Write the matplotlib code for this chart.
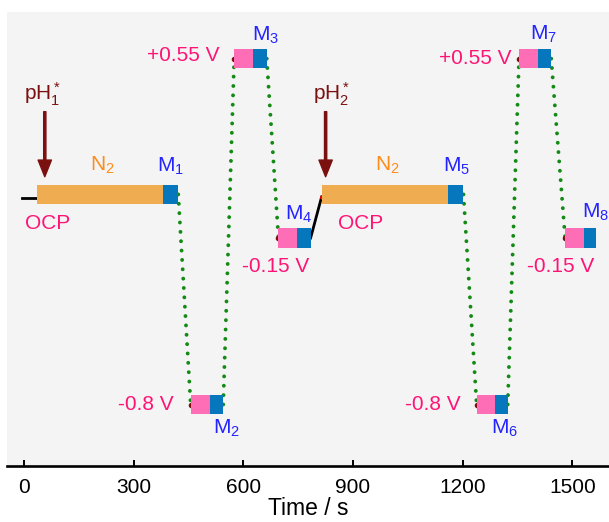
import matplotlib.pyplot as plt
import numpy as np

plt.rcParams['font.family'] = ['Liberation Sans', 'DejaVu Sans']
plt.rcParams['mathtext.fontset'] = 'custom'
plt.rcParams['mathtext.rm'] = 'Liberation Sans'
plt.rcParams['mathtext.it'] = 'Liberation Sans:italic'
plt.rcParams['font.size'] = 15

# potential steps (s, V)
ocp = 0.02
levels = [ocp, -0.8, 0.55, -0.15, ocp, -0.8, 0.55, -0.15]
t_start = [36, 456, 575, 696, 814, 1238, 1354, 1480]
t_split = [381, 510, 627, 748, 1161, 1287, 1406, 1532]
t_end = [422, 545, 664, 784, 1202, 1323, 1442, 1565]
m_names = ['M$_1$', 'M$_2$', 'M$_3$', 'M$_4$', 'M$_5$', 'M$_6$', 'M$_7$', 'M$_8$']

# OCP traces (black)
ocp1_t = [-4, 36]
ocp1_v = [0.007, 0.007]
ocp2_t = [784, 814]
ocp2_v = [-0.15, 0.01]

# pH change arrows
ph_t = [57, 825]
ph_labels = ['pH$_1^*$', 'pH$_2^*$']

xticks = [0, 300, 600, 900, 1200, 1500]

pink_txt = '#ff1476'
blue_txt = '#2424ff'
orange_txt = '#ff8c1a'
dark_red = '#7b1010'
green = '#138a13'

fig = plt.figure(figsize=(6.09, 5.22), dpi=100)
ax = fig.add_axes([0.0123, 0.1073, 0.9877, 0.8697])
ax.set_facecolor('#f4f4f4')

h = 0.0754
for i in range(len(levels)):
    first_col = '#f0ac50' if i in (0, 4) else '#fd6eb7'
    ax.barh(levels[i], t_split[i] - t_start[i], left=t_start[i], height=h,
            color=first_col, edgecolor='none', zorder=3)
    ax.barh(levels[i], t_end[i] - t_split[i], left=t_split[i], height=h,
            color='#0777bd', edgecolor='none', zorder=3)

# transitions
for i in range(len(levels) - 1):
    if i == 3:
        continue
    ax.plot([t_end[i], t_start[i + 1]], [levels[i], levels[i + 1]],
            color=green, lw=2.8, linestyle=(0, (0.01, 2.4)),
            dash_capstyle='round', zorder=2)
    ax.plot(t_start[i + 1], levels[i + 1], 'o', ms=3, color=dark_red, zorder=2.5)

ax.plot(ocp1_t, ocp1_v, color='black', lw=2, zorder=2)
ax.plot(ocp2_t, ocp2_v, color='black', lw=2, zorder=2)
ax.plot(ocp2_t[1], ocp2_v[1], 'o', ms=2.5, color='red', zorder=2.5)

for t, lab in zip(ph_t, ph_labels):
    ax.annotate('', xy=(t, 0.089), xytext=(t, 0.343),
                arrowprops=dict(facecolor=dark_red, edgecolor=dark_red,
                                width=1.6, headwidth=9.6, headlength=12, shrink=0))
    ax.text(t - 6 if t < 100 else t + 15, 0.389, lab, color=dark_red,
            ha='center', va='baseline')

# labels
ax.text(213, 0.111, 'N$_2$', color=orange_txt, ha='center', va='baseline')
ax.text(995, 0.111, 'N$_2$', color=orange_txt, ha='center', va='baseline')
ax.text(64, -0.114, 'OCP', color=pink_txt, ha='center', va='baseline')
ax.text(922, -0.114, 'OCP', color=pink_txt, ha='center', va='baseline')

m_t = [402, 555, 662, 750, 1183, 1315, 1421, 1564]
m_v = [0.11, -0.913, 0.619, -0.08, 0.11, -0.913, 0.623, -0.072]
for t, v, lab in zip(m_t, m_v, m_names):
    ax.text(t, v, lab, color=blue_txt, ha='center', va='baseline')

ax.text(536, 0.541, '+0.55 V', color=pink_txt, ha='right', va='baseline')
ax.text(1334, 0.528, '+0.55 V', color=pink_txt, ha='right', va='baseline')
ax.text(687, -0.283, '-0.15 V', color=pink_txt, ha='center', va='baseline')
ax.text(1469, -0.283, '-0.15 V', color=pink_txt, ha='center', va='baseline')
ax.text(408, -0.822, '-0.8 V', color=pink_txt, ha='right', va='baseline')
ax.text(1195, -0.822, '-0.8 V', color=pink_txt, ha='right', va='baseline')

ax.set_xlim(-45, 1600)
ax.set_ylim(-1.04, 0.732)
ax.set_xticks(xticks)
ax.set_yticks([])
for s in ['left', 'right', 'top']:
    ax.spines[s].set_visible(False)
ax.spines['bottom'].set_linewidth(1.9)
ax.tick_params(axis='x', direction='in', length=4.2, width=1.4, pad=9)
ax.set_xlabel('Time / s', fontsize=16.5, labelpad=0)

fig.savefig('out.png', dpi=100)
